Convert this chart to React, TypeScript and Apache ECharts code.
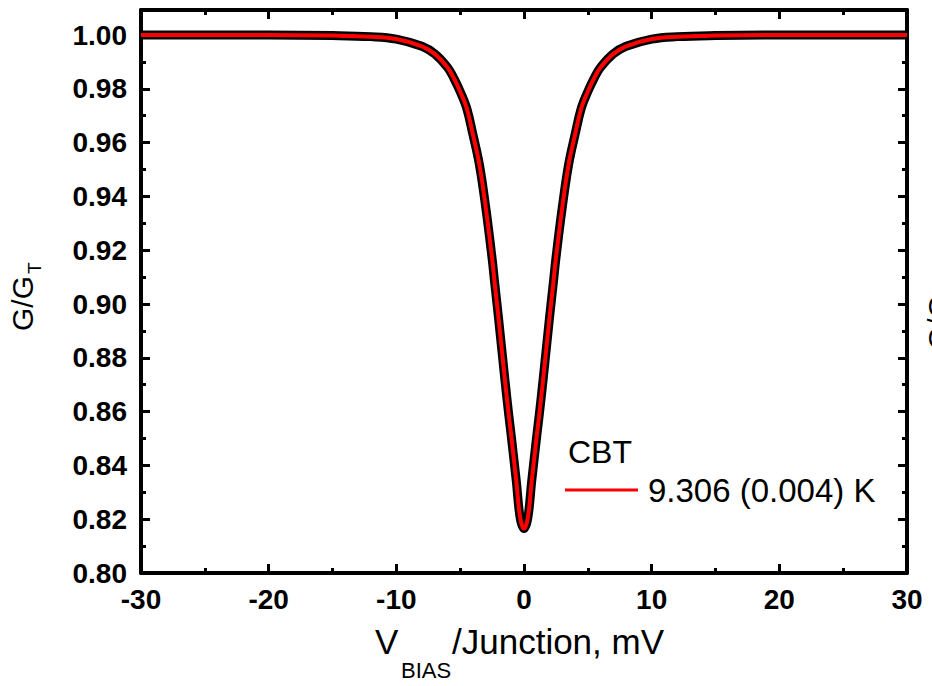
import React, { useEffect, useRef } from "react";
import * as echarts from "echarts";

// Bias voltage per junction (mV) and normalised conductance
const biasMV = [
  -30, -20, -15, -12, -10, -8, -7, -6, -5.5, -5, -4.5, -4, -3.5, -3, -2.5, -2.3, -2, -1.5, -1.2, -1, -0.6, -0.3,
  0,
  0.3, 0.6, 1, 1.2, 1.5, 2, 2.3, 2.5, 3, 3.5, 4, 4.5, 5, 5.5, 6, 7, 8, 10, 12, 15, 20, 30,
];
const measuredG = [
  1.0, 1.0, 0.9998, 0.9994, 0.9985, 0.9958, 0.993, 0.988, 0.984, 0.979, 0.973, 0.963, 0.952, 0.936, 0.917, 0.908, 0.895, 0.872, 0.859, 0.851, 0.834, 0.8205,
  0.8165,
  0.8205, 0.834, 0.851, 0.859, 0.872, 0.895, 0.908, 0.917, 0.936, 0.952, 0.963, 0.973, 0.979, 0.984, 0.988, 0.993, 0.9958, 0.9985, 0.9994, 0.9998, 1.0, 1.0,
];
const fitG = measuredG.slice();

const xTicks = { min: -30, max: 30, major: 10, minor: 5 };
const yTicks = { min: 0.8, max: 1.0093, major: 0.02, minor: 0.01 };
const legendTitle = "CBT";
const fitLabel = "9.306 (0.004) K";

const FONT = "'Liberation Sans', Arial, Helvetica, sans-serif";

export default function App() {
  const ref = useRef<HTMLDivElement>(null);
  useEffect(() => {
    if (!ref.current) return;
    const chart = echarts.init(ref.current, null, { renderer: "svg" });
    const measured = biasMV.map((v, i) => [v, measuredG[i]]);
    const fit = biasMV.map((v, i) => [v, fitG[i]]);

    const axisLine = { show: true, onZero: false, lineStyle: { color: "#000", width: 4 } };
    const hiddenLine = { show: false, onZero: false };
    const tick = (len: number) => ({ show: true, inside: true, length: len, lineStyle: { color: "#000", width: 3 } });
    const noLabel = { show: false };

    const xBase = { type: "value", min: xTicks.min, max: xTicks.max, splitLine: { show: false } };
    const yBase = { type: "value", min: yTicks.min, max: yTicks.max, splitLine: { show: false } };

    const option: any = {
      animation: false,
      backgroundColor: "#fff",
      grid: { left: 141, right: 25, top: 10, bottom: 113, containLabel: false },
      xAxis: [
        {
          ...xBase,
          position: "bottom",
          interval: xTicks.major,
          axisLine,
          axisTick: tick(9),
          axisLabel: {
            show: true,
            margin: 12,
            color: "#000",
            fontFamily: FONT,
            fontWeight: "bold",
            fontSize: 28,
          },
        },
        { ...xBase, position: "bottom", interval: xTicks.minor, axisLine: hiddenLine, axisTick: tick(5), axisLabel: noLabel },
        { ...xBase, position: "top", interval: xTicks.major, axisLine, axisTick: tick(9), axisLabel: noLabel },
        { ...xBase, position: "top", interval: xTicks.minor, axisLine: hiddenLine, axisTick: tick(5), axisLabel: noLabel },
      ],
      yAxis: [
        {
          ...yBase,
          position: "left",
          interval: yTicks.major,
          axisLine,
          axisTick: tick(9),
          axisLabel: {
            show: true,
            margin: 14,
            color: "#000",
            fontFamily: FONT,
            fontWeight: "bold",
            fontSize: 28,
            formatter: (v: number) => (Math.abs(v / yTicks.major - Math.round(v / yTicks.major)) < 1e-6 ? v.toFixed(2) : ""),
          },
        },
        { ...yBase, position: "left", interval: yTicks.minor, axisLine: hiddenLine, axisTick: tick(5), axisLabel: noLabel },
        { ...yBase, position: "right", interval: yTicks.major, axisLine, axisTick: tick(9), axisLabel: noLabel },
        { ...yBase, position: "right", interval: yTicks.minor, axisLine: hiddenLine, axisTick: tick(5), axisLabel: noLabel },
      ],
      legend: {
        show: true,
        data: [{ name: fitLabel, icon: "rect" }],
        left: 565,
        top: 472,
        padding: 0,
        itemWidth: 73,
        itemHeight: 3,
        textStyle: { color: "#000", fontFamily: FONT, fontSize: 33, lineHeight: 36, padding: [0, 0, 0, 5] },
      },
      series: [
        {
          name: "measured",
          type: "line",
          xAxisIndex: 0,
          yAxisIndex: 0,
          data: measured,
          showSymbol: false,
          smooth: 0.4,
          lineStyle: { color: "#000", width: 9 },
          itemStyle: { color: "#000" },
          z: 2,
        },
        {
          name: fitLabel,
          type: "line",
          xAxisIndex: 0,
          yAxisIndex: 0,
          data: fit,
          showSymbol: false,
          smooth: 0.4,
          lineStyle: { color: "#ff0000", width: 4 },
          itemStyle: { color: "#ff0000" },
          z: 3,
        },
      ],
      graphic: [
        {
          type: "text",
          left: 568,
          top: 436,
          style: { text: legendTitle, fill: "#000", font: `32px ${FONT}` },
        },
        // x axis title
        { type: "text", x: 375, y: 641, style: { text: "V", fill: "#000", font: `35px ${FONT}`, textAlign: "left", textVerticalAlign: "middle" } },
        { type: "text", x: 401, y: 670, style: { text: "BIAS", fill: "#000", font: `22px ${FONT}`, textAlign: "left", textVerticalAlign: "middle" } },
        { type: "text", x: 452, y: 641, style: { text: "/Junction, mV", fill: "#000", font: `35px ${FONT}`, textAlign: "left", textVerticalAlign: "middle" } },
        // y axis title
        { type: "text", x: 22, y: 331, rotation: Math.PI / 2, style: { text: "G/G", fill: "#000", font: `30px ${FONT}`, textAlign: "left", textVerticalAlign: "middle" } },
        { type: "text", x: 34, y: 274, rotation: Math.PI / 2, style: { text: "T", fill: "#000", font: `19px ${FONT}`, textAlign: "left", textVerticalAlign: "middle" } },
        // neighbouring panel's title, cut by the edge as in the reference
        { type: "text", x: 938, y: 350, rotation: Math.PI / 2, style: { text: "G/G", fill: "#000", font: `30px ${FONT}`, textAlign: "left", textVerticalAlign: "middle" } },
      ],
    };
    chart.setOption(option);
    return () => chart.dispose();
  }, []);
  return <div ref={ref} style={{ width: 932, height: 686, position: "absolute", left: 0, top: 0 }} />;
}
